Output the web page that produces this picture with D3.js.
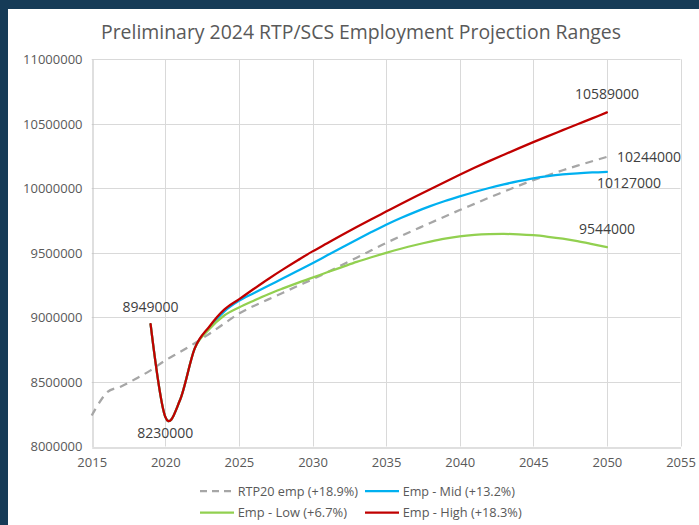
<!DOCTYPE html>
<html><head><meta charset="utf-8">
<script src="https://cdn.jsdelivr.net/npm/d3@7"></script>
<style>
html,body{margin:0;padding:0;background:#163b57;}
svg{display:block;}
</style></head>
<body>
<svg id="chart" width="699" height="525"></svg>
<script>
const title = "Preliminary 2024 RTP/SCS Employment Projection Ranges";
const xTicks = [2015,2020,2025,2030,2035,2040,2045,2050,2055];
const yTicks = [8000000,8500000,9000000,9500000,10000000,10500000,11000000];

const yearsRTP = d3.range(2015, 2051);
const rtp20 = [8240000,8415000,8465000,8525000,8590000,8667000,8732000,8800000,8874000,8952000,9030000,9088000,9140000,9192000,9244000,9295000,9350000,9407000,9463000,9520000,9577000,9630000,9681000,9732000,9782000,9832000,9880000,9928000,9974000,10020000,10064000,10102000,10140000,10176000,10210000,10244000];

const yearsProj = d3.range(2019, 2051);
const empMid = [8949000,8230000,8360000,8760000,8920000,9045000,9128000,9187000,9245000,9303000,9361000,9420000,9481000,9542000,9602000,9661000,9718000,9770000,9818000,9862000,9902000,9938000,9972000,10003000,10031000,10056000,10078000,10095000,10108000,10117000,10123000,10127000];
const empLow = [8949000,8230000,8360000,8760000,8910000,9015000,9077000,9130000,9180000,9225000,9268000,9308000,9350000,9390000,9430000,9466000,9500000,9532000,9561000,9587000,9610000,9628000,9639000,9645000,9647000,9644000,9637000,9625000,9610000,9591000,9568000,9544000];
const empHigh = [8949000,8230000,8360000,8760000,8930000,9060000,9140000,9220000,9298000,9372000,9443000,9512000,9575000,9638000,9700000,9761000,9820000,9879000,9937000,9994000,10050000,10105000,10159000,10211000,10261000,10310000,10358000,10405000,10451000,10497000,10542000,10589000];

const seriesNames = ["RTP20 emp (+18.9%)","Emp - Mid (+13.2%)","Emp - Low (+6.7%)","Emp - High (+18.3%)"];
const seriesColors = ["#a6a6a6","#00b0f0","#92d050","#c00000"];

const svg = d3.select("#chart");
svg.append("rect").attr("x",8).attr("y",9).attr("width",699-8).attr("height",525-9).attr("fill","#ffffff");

const x = d3.scaleLinear().domain([2015,2055]).range([91.7,680.5]);
const y = d3.scaleLinear().domain([8000000,11000000]).range([446.5,59.3]);

svg.append("text").attr("x",361).attr("y",39).attr("text-anchor","middle")
  .attr("font-family","Open Sans, sans-serif").attr("font-size",20).attr("fill","#595959")
  .attr("textLength",520).attr("lengthAdjust","spacingAndGlyphs").text(title);

const g = svg.append("g");
g.selectAll(".hg").data(yTicks.slice(1)).join("line")
  .attr("x1",x(2015)).attr("x2",x(2055)).attr("y1",d=>Math.round(y(d))+0.5).attr("y2",d=>Math.round(y(d))+0.5)
  .attr("stroke","#d9d9d9").attr("stroke-width",1);
g.selectAll(".vg").data(xTicks.slice(1)).join("line")
  .attr("y1",y(8000000)).attr("y2",y(11000000)).attr("x1",d=>Math.round(x(d))+0.5).attr("x2",d=>Math.round(x(d))+0.5)
  .attr("stroke","#d9d9d9").attr("stroke-width",1);

const xAxis = d3.axisBottom(x).tickValues(xTicks).tickFormat(d3.format("d")).tickSize(0).tickPadding(10);
const gx = svg.append("g").attr("transform",`translate(0,${Math.round(y(8000000))+0.5})`).call(xAxis);
gx.select(".domain").attr("stroke","#bfbfbf");
gx.selectAll("text").attr("font-family","Open Sans, sans-serif").attr("font-size",13).attr("fill","#595959");

const yAxis = d3.axisLeft(y).tickValues(yTicks).tickFormat(d3.format("d")).tickSize(0).tickPadding(10);
const gy = svg.append("g").attr("transform",`translate(${Math.round(x(2015))+0.5},0)`).call(yAxis);
gy.select(".domain").attr("stroke","#bfbfbf");
gy.selectAll("text").attr("font-family","Open Sans, sans-serif").attr("font-size",13).attr("fill","#595959");

const line = d3.line().x(d=>x(d[0])).y(d=>y(d[1])).curve(d3.curveCatmullRom.alpha(0));
const data = [
  d3.zip(yearsRTP, rtp20),
  d3.zip(yearsProj, empMid),
  d3.zip(yearsProj, empLow),
  d3.zip(yearsProj, empHigh)
];
data.forEach((d,i)=>{
  svg.append("path").attr("d",line(d)).attr("fill","none")
    .attr("stroke",seriesColors[i]).attr("stroke-width",2.25)
    .attr("stroke-linejoin","round").attr("stroke-linecap", i===0?"butt":"round")
    .attr("stroke-dasharray", i===0 ? "8,6" : null);
});

const lbl = (t,xx,yy,anchor)=>svg.append("text").attr("x",xx).attr("y",yy).attr("text-anchor",anchor)
  .attr("font-family","Open Sans, sans-serif").attr("font-size",14).attr("fill","#404040").text(t);
const fmt = d3.format("d");
lbl(fmt(empHigh[0]), x(2019), y(empHigh[0])-12, "middle");
lbl(fmt(empHigh[1]), x(2020), y(empHigh[1])+21, "middle");
lbl(fmt(empHigh[empHigh.length-1]), x(2050), y(empHigh[empHigh.length-1])-13, "middle");
lbl(fmt(rtp20[rtp20.length-1]), x(2050)+10, y(rtp20[rtp20.length-1])+5, "start");
lbl(fmt(empMid[empMid.length-1]), x(2050)+22, y(empMid[empMid.length-1])+16, "middle");
lbl(fmt(empLow[empLow.length-1]), x(2050), y(empLow[empLow.length-1])-13, "middle");

const legendPos = [[200,491,237.7,120.3],[365,491,402.7,112.3],[200,512.5,237.7,109.3],[365,512.5,402.7,119]];
seriesNames.forEach((n,i)=>{
  const [lx,ly,tx,tw] = legendPos[i];
  svg.append("line").attr("x1",lx).attr("x2",lx+34).attr("y1",ly).attr("y2",ly)
    .attr("stroke",seriesColors[i]).attr("stroke-width",2.25)
    .attr("stroke-dasharray", i===0 ? "7,5" : null);
  svg.append("text").attr("x",tx).attr("y",ly+4.5)
    .attr("font-family","Open Sans, sans-serif").attr("font-size",13).attr("fill","#595959")
    .attr("textLength",tw).attr("lengthAdjust","spacingAndGlyphs").text(n);
});
</script>
</body></html>
